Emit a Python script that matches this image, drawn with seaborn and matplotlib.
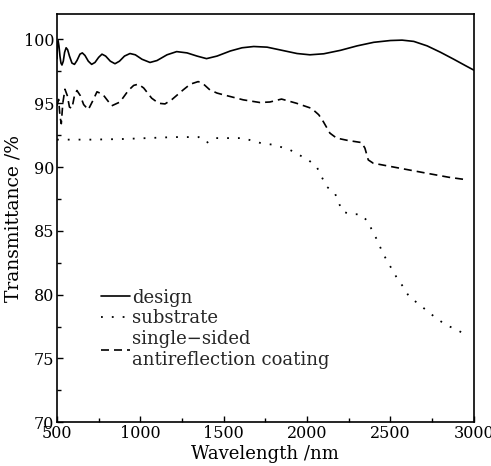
import seaborn as sns
import matplotlib.pyplot as plt
from matplotlib.ticker import MultipleLocator
import pandas as pd

sns.set_theme(style="ticks")
plt.rcParams['font.family'] = ['DejaVu Serif']
plt.rcParams['mathtext.fontset'] = 'dejavuserif'

# design (solid)
design_wl = [500, 503, 507, 512, 518, 524, 530, 538, 546, 555, 564, 575, 590, 605, 620,
             638, 652, 668, 688, 708, 728, 750, 770, 792, 820, 848, 875, 905, 938, 970,
             1010, 1058, 1100, 1160, 1218, 1280, 1340, 1397, 1460, 1540, 1610, 1680, 1760,
             1850, 1940, 2017, 2100, 2200, 2300, 2400, 2500, 2570, 2640, 2720, 2800, 2880,
             2950, 3000]
design_t = [98.5, 99.6, 99.9, 99.5, 98.7, 98.15, 98.0, 98.3, 99.0, 99.35, 99.2, 98.7, 98.15,
            98.05, 98.35, 98.85, 98.95, 98.75, 98.3, 98.05, 98.2, 98.6, 98.85, 98.7, 98.3,
            98.1, 98.3, 98.7, 98.9, 98.8, 98.45, 98.2, 98.35, 98.8, 99.05, 98.95, 98.7, 98.5,
            98.7, 99.1, 99.35, 99.45, 99.4, 99.15, 98.9, 98.8, 98.88, 99.15, 99.5, 99.78,
            99.92, 99.95, 99.85, 99.5, 99.0, 98.45, 97.95, 97.6]

# substrate (dotted)
substrate_wl = [500, 700, 900, 1100, 1200, 1350, 1397, 1447, 1615, 1717, 1800, 1867, 1897,
                2007, 2057, 2087, 2117, 2167, 2187, 2213, 2267, 2321, 2366, 2393, 2420,
                2446, 2476, 2506, 2540, 2576, 2612, 2666, 2726, 2776, 2836, 2896, 2970]
substrate_t = [92.15, 92.15, 92.2, 92.3, 92.35, 92.35, 91.9, 92.27, 92.27, 91.9, 91.74,
               91.48, 91.35, 90.56, 90.04, 89.25, 88.47, 87.95, 87.29, 86.5, 86.3, 86.3,
               85.72, 84.94, 84.29, 83.5, 82.72, 82.06, 81.28, 80.62, 79.84, 79.3, 78.66,
               78.14, 77.6, 77.27, 76.7]

# single-sided antireflection coating (dashed)
coating_wl = [500, 510, 518, 526, 535, 548, 562, 575, 590, 605, 620, 640, 660, 688, 715,
              740, 775, 828, 878, 928, 960, 988, 1020, 1068, 1110, 1148, 1190, 1257, 1300,
              1347, 1375, 1417, 1460, 1497, 1617, 1717, 1777, 1847, 1937, 2027, 2070, 2097,
              2137, 2177, 2247, 2327, 2347, 2367, 2397, 2556, 2716, 2850, 2960]
coating_t = [94.8, 95.3, 94.0, 93.4, 95.0, 96.1, 95.6, 94.7, 94.6, 95.6, 96.0, 95.6, 94.9,
             94.5, 95.2, 95.9, 95.7, 94.8, 95.1, 96.0, 96.4, 96.5, 96.2, 95.4, 95.0, 94.95,
             95.3, 96.05, 96.5, 96.7, 96.55, 96.05, 95.8, 95.67, 95.27, 95.06, 95.1, 95.33,
             95.0, 94.6, 94.1, 93.57, 92.66, 92.27, 92.08, 91.92, 91.48, 90.56, 90.3, 89.91,
             89.52, 89.2, 89.0]

fig = plt.figure(figsize=(4.91, 4.66), dpi=100)
ax = fig.add_axes([0.116, 0.094, 0.849, 0.876])

sns.lineplot(data=pd.DataFrame({"x": design_wl, "y": design_t}), x="x", y="y", ax=ax,
             color="black", lw=1.2, sort=False, label="design")
sns.lineplot(data=pd.DataFrame({"x": substrate_wl, "y": substrate_t}), x="x", y="y", ax=ax,
             color="black", lw=1.3, ls=(0, (1, 5)), sort=False, label="substrate")
sns.lineplot(data=pd.DataFrame({"x": coating_wl, "y": coating_t}), x="x", y="y", ax=ax,
             color="black", lw=1.2, ls=(0, (4.8, 3)), sort=False,
             label="single\u2212sided\nantireflection coating")

ax.set_xlim(500, 3000)
ax.set_ylim(70, 102)
ax.xaxis.set_major_locator(MultipleLocator(500))
ax.xaxis.set_minor_locator(MultipleLocator(250))
ax.yaxis.set_major_locator(MultipleLocator(5))
ax.yaxis.set_minor_locator(MultipleLocator(2.5))
ax.tick_params(which="both", direction="in", labelsize=11.5, colors="black", pad=2)
ax.tick_params(which="major", length=4, width=1)
ax.tick_params(which="minor", length=3, width=1)
for s in ax.spines.values():
    s.set_color("black")
    s.set_linewidth(1.2)

ax.set_xlabel("Wavelength /nm", fontsize=13, color="black", labelpad=2)
ax.set_ylabel("Transmittance /%", fontsize=13.5, color="black", labelpad=1)

ax.legend(loc="upper left", bbox_to_anchor=(0.105, 0.327), frameon=False, fontsize=13,
          borderpad=0, borderaxespad=0, handlelength=1.6, handletextpad=0.15,
          labelspacing=0.14)

plt.savefig("out.png", dpi=100)
